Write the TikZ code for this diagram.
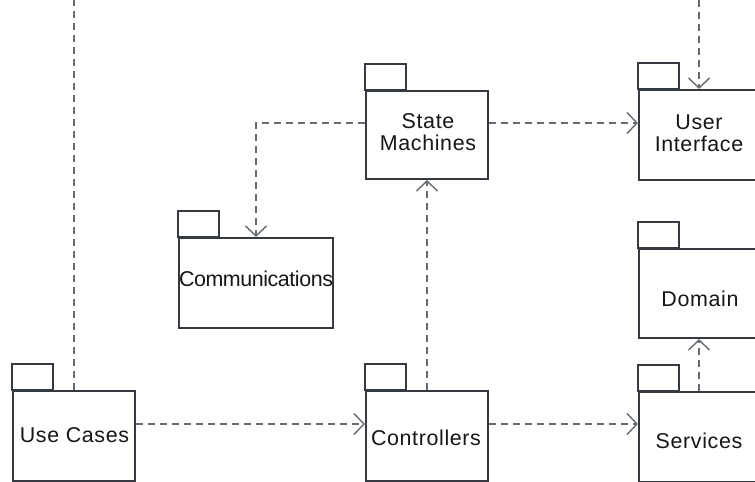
\documentclass[tikz,border=0pt]{standalone}
\usepackage{fontspec}
\setmainfont{Liberation Sans}
\newfontfamily\pkgfont[LetterSpace=3]{Liberation Sans}
\newfontfamily\pkgfontnarrow[LetterSpace=-2]{Liberation Sans}
\usetikzlibrary{arrows.meta}
\definecolor{boxline}{HTML}{353A40}
\definecolor{depline}{HTML}{676B70}
\definecolor{inkc}{HTML}{161616}
\tikzset{
  pkgbody/.style={draw=boxline, line width=2.1bp, fill=white, inner sep=0pt},
  pkgtab/.style={draw=boxline, line width=2.1bp},
  pkgtext/.style={anchor=base, inner sep=0pt, text=inkc, font=\pkgfont\fontsize{21.5}{22.5}\selectfont, align=center},
  dep/.style={draw=depline, line width=1.4bp, dash pattern=on 7bp off 5bp,
    -{Straight Barb[length=10bp, width=21bp, line width=1.4bp]}},
  depplain/.style={draw=depline, line width=1.4bp, dash pattern=on 7bp off 5bp}
}
\newcommand{\pkgtabfor}[1]{\draw[pkgtab] (#1.north west) rectangle ++(41,-26);}
\begin{document}
\begin{tikzpicture}[x=1bp, y=-1bp]
  \clip (0,0) rectangle (755,482);
  \fill[white] (0,0) rectangle (755,482);

  % package bodies
  \node[pkgbody, minimum width=122bp, minimum height=88bp] (sm)  at (427,135) {};
  \node[pkgbody, minimum width=154bp, minimum height=90bp] (com) at (256,283) {};
  \node[pkgbody, minimum width=122bp, minimum height=90bp] (uc)  at (74,436) {};
  \node[pkgbody, minimum width=122bp, minimum height=90bp] (ctl) at (427,436) {};
  \node[pkgbody, minimum width=120bp, minimum height=90bp] (ui)  at (699,135) {};
  \node[pkgbody, minimum width=120bp, minimum height=89bp] (dom) at (699,293.5) {};
  \node[pkgbody, minimum width=120bp, minimum height=90bp] (svc) at (699,437) {};

  % package tabs
  \pkgtabfor{sm}
  \pkgtabfor{com}
  \pkgtabfor{uc}
  \pkgtabfor{ctl}
  \pkgtabfor{ui}
  \pkgtabfor{dom}
  \pkgtabfor{svc}

  % package names (two-line names sit on the baseline of their last line)
  \node[pkgtext] (smT)  at (428,151) {State\\Machines};
  \node[pkgtext, font=\pkgfontnarrow\fontsize{21.5}{22.5}\selectfont] (comT) at (256,287) {Communications};
  \node[pkgtext] (ucT)  at (74.5,442.5) {Use Cases};
  \node[pkgtext] (ctlT) at (426,445) {Controllers};
  \node[pkgtext] (uiT)  at (699,152) {User\\Interface};
  \node[pkgtext] (domT) at (700,306) {Domain};
  \node[pkgtext] (svcT) at (699,448) {Services};

  % free ends at the top edge
  \coordinate (ucTop) at (74,0);
  \coordinate (uiTop) at (699,0);

  % dependencies
  \draw[depplain] (uc.north) -- (ucTop);
  \draw[dep] (uiTop) -- (ui.north);
  \draw[dep] ([yshift=12bp]uc.east) -- ([yshift=12bp]ctl.west);
  \draw[dep] ([yshift=12bp]ctl.east) -- ([yshift=12bp]ctl.east -| svc.west);
  \draw[dep] (ctl.north) -- (sm.south);
  \draw[dep] ([yshift=12bp]sm.east) -- ([yshift=12bp]sm.east -| ui.west);
  \draw[dep] ([yshift=12bp]sm.west) -| (com.north);
  \draw[dep] (svc.north) -- (dom.south);
\end{tikzpicture}
\end{document}
